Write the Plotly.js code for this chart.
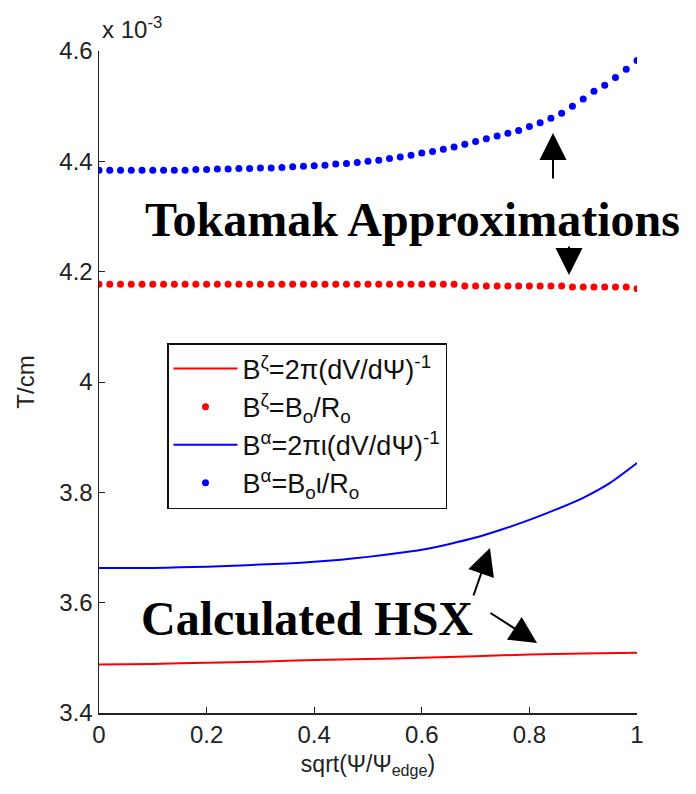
<!DOCTYPE html>
<html>
<head>
<meta charset="utf-8">
<script src="https://cdn.plot.ly/plotly-3.0.1.min.js"></script>
<style>
  html, body { margin: 0; padding: 0; background: #fff; }
  #chart { width: 696px; height: 794px; }
</style>
</head>
<body>
<div id="chart"></div>
<script>
// Field strength vs normalised radius, in units of 1e-3 T/cm.
// Dotted series: tokamak approximations, sampled every 0.02.
const rhoDots = [
  0.00, 0.02, 0.04, 0.06, 0.08, 0.10, 0.12, 0.14, 0.16, 0.18,
  0.20, 0.22, 0.24, 0.26, 0.28, 0.30, 0.32, 0.34, 0.36, 0.38,
  0.40, 0.42, 0.44, 0.46, 0.48, 0.50, 0.52, 0.54, 0.56, 0.58,
  0.60, 0.62, 0.64, 0.66, 0.68, 0.70, 0.72, 0.74, 0.76, 0.78,
  0.80, 0.82, 0.84, 0.86, 0.88, 0.90, 0.92, 0.94, 0.96, 0.98, 1.00
];
const bZetaApprox = [
  4.177, 4.177, 4.177, 4.177, 4.177, 4.177, 4.177, 4.177, 4.177, 4.177,
  4.177, 4.177, 4.177, 4.177, 4.177, 4.177, 4.177, 4.177, 4.177, 4.177,
  4.177, 4.177, 4.177, 4.177, 4.177, 4.177, 4.177, 4.177, 4.177, 4.177,
  4.177, 4.177, 4.177, 4.177, 4.174, 4.174, 4.174, 4.174, 4.174, 4.174,
  4.174, 4.174, 4.174, 4.174, 4.172, 4.172, 4.172, 4.172, 4.172, 4.172, 4.169
];
const bAlphaApprox = [
  4.384, 4.384, 4.384, 4.384, 4.384, 4.384, 4.384, 4.384, 4.384, 4.385,
  4.385, 4.386, 4.386, 4.387, 4.387, 4.388, 4.388, 4.389, 4.390, 4.391,
  4.392, 4.393, 4.395, 4.396, 4.398, 4.400, 4.402, 4.405, 4.408, 4.411,
  4.415, 4.418, 4.422, 4.426, 4.431, 4.436, 4.441, 4.446, 4.451, 4.456,
  4.463, 4.470, 4.478, 4.487, 4.500, 4.513, 4.527, 4.538, 4.552, 4.567, 4.583
];

// Solid series: calculated HSX values.
const rhoZeta = [0.0, 0.1, 0.2, 0.3, 0.4, 0.5, 0.6, 0.7, 0.8, 0.9, 1.0];
const bZetaHSX = [3.488, 3.489, 3.491, 3.493, 3.496, 3.498, 3.500, 3.503, 3.506, 3.508, 3.509];

const rhoAlpha = [
  0.00, 0.05, 0.10, 0.15, 0.20, 0.25, 0.30, 0.35, 0.40, 0.45, 0.50,
  0.55, 0.60, 0.65, 0.70, 0.75, 0.80, 0.85, 0.90, 0.95, 1.00
];
const bAlphaHSX = [
  3.663, 3.663, 3.663, 3.664, 3.665, 3.667, 3.669, 3.671, 3.674, 3.678, 3.683,
  3.689, 3.696, 3.706, 3.718, 3.733, 3.750, 3.769, 3.790, 3.817, 3.853
];

const seriesNames = [
  'B<sup>\u03b6</sup>=2\u03c0(dV/d\u03a8)<sup>-1</sup>',
  'B<sup>\u03b6</sup>=B<sub>o</sub>/R<sub>o</sub>',
  'B<sup>\u03b1</sup>=2\u03c0\u03b9(dV/d\u03a8)<sup>-1</sup>',
  'B<sup>\u03b1</sup>=B<sub>o</sub>\u03b9/R<sub>o</sub>'
];

const sansFont = "'Liberation Sans', Arial, sans-serif";
const serifFont = "'Liberation Serif', 'Times New Roman', serif";
const RED = '#ff0000';
const BLUE = '#0000ff';

const traces = [
  { x: rhoZeta, y: bZetaHSX, name: seriesNames[0], type: 'scatter', mode: 'lines',
    line: { color: RED, width: 2, shape: 'spline', smoothing: 0.6 } },
  { x: rhoDots, y: bZetaApprox, name: seriesNames[1], type: 'scatter', mode: 'markers',
    marker: { color: RED, size: 7 } },
  { x: rhoAlpha, y: bAlphaHSX, name: seriesNames[2], type: 'scatter', mode: 'lines',
    line: { color: BLUE, width: 2, shape: 'spline', smoothing: 0.6 } },
  { x: rhoDots, y: bAlphaApprox, name: seriesNames[3], type: 'scatter', mode: 'markers',
    marker: { color: BLUE, size: 7 } }
];

function arrow(x, y, ax, ay) {
  return {
    xref: 'paper', yref: 'paper', x: x, y: y, ax: ax, ay: ay,
    axref: 'pixel', ayref: 'pixel', text: '', showarrow: true,
    arrowhead: 2, arrowsize: 2.7, arrowwidth: 2, arrowcolor: '#000', standoff: 0
  };
}

// plot area: x 99..637 px, y 51..713 px
const L = 99, T = 51, W = 538, H = 662;
const px = v => (v - L) / W;
const py = v => (T + H - v) / H;

const layout = {
  width: 696, height: 794,
  margin: { l: L, r: 696 - L - W, t: T, b: 794 - T - H },
  paper_bgcolor: '#fff', plot_bgcolor: '#fff',
  showlegend: true,
  font: { family: sansFont, size: 24, color: '#222' },
  xaxis: {
    range: [0, 1], dtick: 0.2, tick0: 0,
    ticks: 'inside', ticklen: 6, tickwidth: 1, tickcolor: '#222',
    showline: true, linecolor: '#222', linewidth: 1.5,
    showgrid: false, zeroline: false,
    tickfont: { family: sansFont, size: 24, color: '#222' },
    title: { text: 'sqrt(\u03a8/\u03a8<sub>edge</sub>)', font: { family: sansFont, size: 23, color: '#222' }, standoff: 8 }
  },
  yaxis: {
    range: [3.4, 4.6], dtick: 0.2, tick0: 3.4,
    ticks: 'inside', ticklen: 6, tickwidth: 1, tickcolor: '#222',
    showline: true, linecolor: '#222', linewidth: 1.5,
    showgrid: false, zeroline: false,
    tickfont: { family: sansFont, size: 24, color: '#222' },
    title: { text: 'T/cm', font: { family: sansFont, size: 24, color: '#222' }, standoff: 18 }
  },
  legend: {
    x: px(167), y: py(343), xanchor: 'left', yanchor: 'top',
    bgcolor: '#fff', bordercolor: '#111', borderwidth: 1.5,
    font: { family: sansFont, size: 27, color: '#111' },
    itemwidth: 64, tracegroupgap: 0
  },
  annotations: [
    { xref: 'paper', yref: 'paper', x: px(100), y: py(28), xanchor: 'left', yanchor: 'middle',
      text: 'x 10<sup>-3</sup>', showarrow: false,
      font: { family: sansFont, size: 24, color: '#222' } },
    { xref: 'paper', yref: 'paper', x: px(412), y: py(219), xanchor: 'center', yanchor: 'middle',
      text: '<b>Tokamak Approximations</b>', showarrow: false,
      font: { family: serifFont, size: 48, color: '#000' } },
    { xref: 'paper', yref: 'paper', x: px(307), y: py(618), xanchor: 'center', yanchor: 'middle',
      text: '<b>Calculated HSX</b>', showarrow: false,
      font: { family: serifFont, size: 48, color: '#000' } },
    arrow(px(553), py(133), 0, 47),
    arrow(px(569), py(275), 0, -30),
    arrow(px(490), py(548), -17, 49),
    arrow(px(537), py(643), -48, -31)
  ]
};

Plotly.newPlot('chart', traces, layout, { staticPlot: true, displayModeBar: false });
</script>
</body>
</html>
